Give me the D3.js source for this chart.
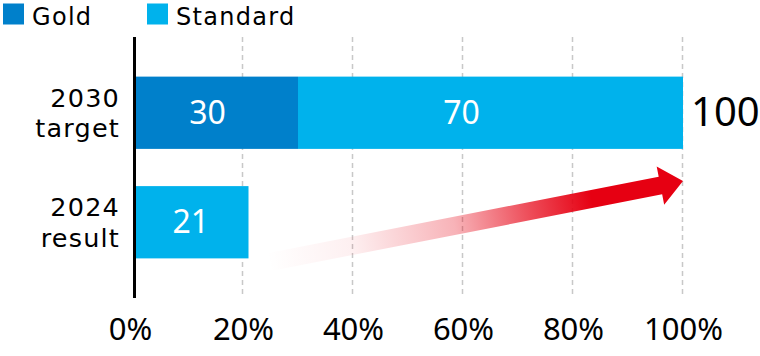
<!DOCTYPE html>
<html>
<head>
<meta charset="utf-8">
<script src="https://cdn.jsdelivr.net/npm/d3@7"></script>
<style>
  html, body { margin: 0; padding: 0; background: #fff; }
  svg { display: block; font-family: "Noto Sans", sans-serif; }
</style>
</head>
<body>
<svg id="chart" width="760" height="356"></svg>
<script>
// ---- data ----
const categories = ["2030 target", "2024 result"];
const categoryLines = [["2030", "target"], ["2024", "result"]];
const seriesNames = ["Gold", "Standard"];
const goldValues = [30, 0];
const standardValues = [70, 21];
const totalLabels = ["100", ""];
const xTicks = [0, 20, 40, 60, 80, 100];
const arrowFrom = 24.5;   // % value where the growth arrow starts
const arrowTo = 100;      // % value where the arrow points

// ---- layout ----
const colors = { Gold: "#0080cb", Standard: "#00b2ec" };
const svg = d3.select("#chart");

const x = d3.scaleLinear().domain([0, 100]).range([133, 683]);
const y = d3.scaleBand().domain(categories).range([58, 277]).paddingInner(0.34).paddingOuter(0.17);

const gridTop = 37, gridBottom = 298;

// gridlines
svg.append("g").selectAll("line").data(xTicks.filter(d => d > 0)).join("line")
  .attr("x1", d => x(d) - 0.5).attr("x2", d => x(d) - 0.5)
  .attr("y1", gridTop).attr("y2", gridBottom)
  .attr("stroke", "#c8c8c8").attr("stroke-width", 1.5)
  .attr("stroke-dasharray", "5,4");

// stacked data
const stackData = categories.map((c, i) => ({ cat: c, Gold: goldValues[i], Standard: standardValues[i] }));
const stack = d3.stack().keys(seriesNames)(stackData);

const layers = svg.append("g").selectAll("g").data(stack).join("g")
  .attr("fill", d => colors[d.key]);
layers.selectAll("rect").data(d => d.filter(p => p[1] - p[0] > 0)).join("rect")
  .attr("x", d => x(d[0]))
  .attr("y", d => y(d.data.cat))
  .attr("width", d => x(d[1]) - x(d[0]))
  .attr("height", y.bandwidth());

// value labels inside bars
const labelShift = { Gold: -8, Standard: -29 };
stack.forEach(layer => {
  layer.forEach(p => {
    const v = p[1] - p[0];
    if (v <= 0) return;
    let cx = (x(p[0]) + x(p[1])) / 2;
    if (p.data.cat === categories[0]) cx += labelShift[layer.key];
    svg.append("text")
      .attr("x", cx)
      .attr("y", y(p.data.cat) + y.bandwidth() / 2 + 11)
      .attr("text-anchor", "middle")
      .attr("fill", "#fff")
      .attr("font-size", 32)
      .text(v);
  });
});

// total labels
categories.forEach((c, i) => {
  if (!totalLabels[i]) return;
  svg.append("text")
    .attr("x", x(goldValues[i] + standardValues[i]) + 8)
    .attr("y", y(c) + y.bandwidth() / 2 + 13)
    .attr("font-size", 40)
    .attr("fill", "#000")
    .text(totalLabels[i]);
});

// growth arrow
const tail = [x(arrowFrom), y(categories[1]) + y.bandwidth() + 4];
const tip = [x(arrowTo), y(categories[1]) - 5];
const dx = tip[0] - tail[0], dy = tip[1] - tail[1];
const L = Math.hypot(dx, dy);
const ang = Math.atan2(dy, dx) * 180 / Math.PI;
const defs = svg.append("defs");
const grad = defs.append("linearGradient").attr("id", "arrowGrad")
  .attr("gradientUnits", "userSpaceOnUse")
  .attr("x1", 0).attr("y1", 0).attr("x2", L).attr("y2", 0);
[[0, 0], [0.2, 0.06], [0.45, 0.3], [0.62, 0.68], [0.78, 1], [1, 1]].forEach(([o, op]) => {
  grad.append("stop").attr("offset", o).attr("stop-color", "#e60012").attr("stop-opacity", op);
});
const sw = 9, hw = 19.5, hl = 23;
const pts = [[0, -sw], [L - hl, -sw], [L - hl, -hw], [L, 0], [L - hl, hw], [L - hl, sw], [0, sw]];
svg.append("polygon")
  .attr("transform", `translate(${tail[0]},${tail[1]}) rotate(${ang})`)
  .attr("points", pts.map(p => p.join(",")).join(" "))
  .attr("fill", "url(#arrowGrad)");

// y axis line
svg.append("line")
  .attr("x1", x(0) + 1.5).attr("x2", x(0) + 1.5)
  .attr("y1", gridTop).attr("y2", gridBottom)
  .attr("stroke", "#000").attr("stroke-width", 3);

// x tick labels via axis
const xAxis = d3.axisBottom(x).tickValues(xTicks).tickFormat(d => d + "%").tickSize(0).tickPadding(0);
const gx = svg.append("g").attr("transform", "translate(0,340)").call(xAxis);
gx.select(".domain").remove();
gx.selectAll("text")
  .attr("dy", 0).attr("y", 0)
  .attr("font-size", 31).attr("fill", "#000")
  .attr("font-family", "Noto Sans, sans-serif");
gx.select(".tick text").attr("dx", -3);

// category labels
categories.forEach((c, i) => {
  const cy = y(c) + y.bandwidth() / 2;
  categoryLines[i].forEach((line, j) => {
    svg.append("text")
      .attr("text-anchor", "end")
      .attr("font-family", "DejaVu Sans, sans-serif")
      .attr("font-size", 25.5)
      .attr("letter-spacing", 1.2)
      .attr("fill", "#000")
      .attr("x", 120).attr("y", cy - 6 + j * 30.3).text(line);
  });
});

// legend
const legend = svg.append("g");
const legendX = [3, 147];
seriesNames.forEach((s, i) => {
  legend.append("rect").attr("x", legendX[i]).attr("y", 3.5).attr("width", 21).attr("height", 21).attr("fill", colors[s]);
  legend.append("text").attr("x", legendX[i] + 29).attr("y", 24.5)
    .attr("font-family", "DejaVu Sans, sans-serif")
    .attr("letter-spacing", 1.3)
    .attr("font-size", 24).attr("fill", "#000").text(s);
});
</script>
</body>
</html>
